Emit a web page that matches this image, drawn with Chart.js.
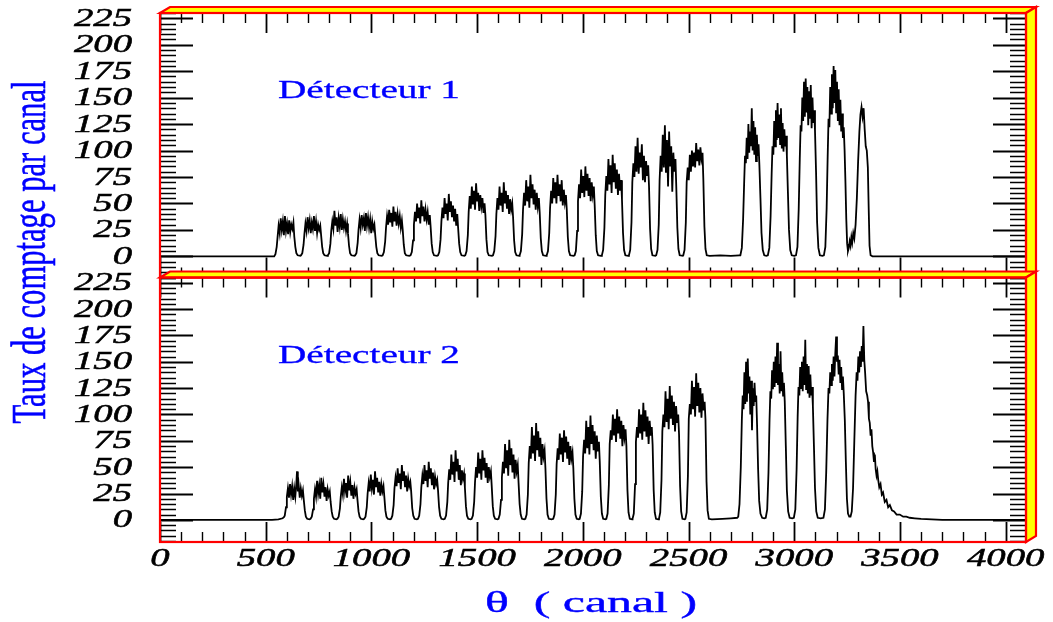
<!DOCTYPE html>
<html>
<head>
<meta charset="utf-8">
<script src="https://cdn.jsdelivr.net/npm/chart.js@4.4.1/dist/chart.umd.min.js"></script>
<style>
  body { margin: 0; background: #fff; }
  canvas { display: block; }
</style>
</head>
<body>
<canvas id="spectre" width="1053" height="622"></canvas>
<script>
// Détecteur 1 : [canal, taux de comptage]
const detecteur1 = [
  [0,0],[540,0],
  [546,2],[552,9],[556,18],[561,29],[566,22],[571,36],[576,25],[581,33],[586,20],[591,38],[596,24],[601,31],[606,21],[611,34],[616,23],[621,30],[626,26],[631,32],[635,19],[640,9],[645,3],[651,1],[664,0.5],
  [667,1],[673,3],[679,11],[683,21],[688,31],[693,24],[698,37],[703,27],[708,34],[713,22],[718,32],[723,26],[728,38],[733,24],[738,33],[743,22],[748,30],[753,25],[758,29],[762,20],[767,9],[772,3],[778,1],[791,0.5],
  [794,1],[800,3],[806,12],[810,24],[815,33],[820,26],[825,43],[830,29],[835,37],[840,23],[845,36],[850,28],[855,40],[860,25],[865,35],[870,27],[875,33],[880,24],[885,31],[889,22],[894,10],[899,3],[905,1],[920,0.5],
  [923,1],[929,3],[935,13],[939,25],[944,35],[949,27],[954,39],[959,30],[964,36],[969,24],[974,41],[979,29],[984,37],[989,27],[994,35],[999,22],[1004,33],[1009,26],[1014,30],[1018,20],[1023,9],[1028,3],[1034,1],[1049,0.5],
  [1053,1],[1059,4],[1065,14],[1069,27],[1074,38],[1079,30],[1084,44],[1089,32],[1094,41],[1099,28],[1104,47],[1109,33],[1114,42],[1119,29],[1124,40],[1129,31],[1134,38],[1139,27],[1144,34],[1148,25],[1153,11],[1158,3],[1164,1],[1179,0.5],
  [1185,1],[1191,4],[1197,15],[1201,30],[1206,42],[1211,33],[1216,50],[1221,36],[1226,46],[1231,31],[1236,53],[1241,38],[1246,47],[1251,33],[1256,44],[1261,35],[1266,42],[1271,30],[1276,39],[1280,28],[1285,12],[1290,4],[1296,1],[1310,0.5],
  [1315,1],[1321,4],[1327,16],[1331,33],[1336,46],[1341,36],[1346,55],[1351,40],[1356,50],[1361,34],[1366,59],[1371,42],[1376,52],[1381,37],[1386,48],[1391,33],[1396,45],[1401,29],[1406,40],[1410,27],[1415,12],[1420,4],[1426,1],[1440,0.5],
  [1444,1],[1450,5],[1456,20],[1460,42],[1465,57],[1470,45],[1475,66],[1480,49],[1485,62],[1490,44],[1495,69],[1500,52],[1505,60],[1510,43],[1515,58],[1520,47],[1525,55],[1530,41],[1535,50],[1539,39],[1544,16],[1549,4],[1555,1],[1570,0.5],
  [1575,1],[1581,5],[1587,19],[1591,40],[1596,55],[1601,44],[1606,66],[1611,48],[1616,60],[1621,42],[1626,70],[1631,50],[1636,62],[1641,45],[1646,58],[1651,40],[1656,54],[1661,44],[1666,50],[1670,37],[1675,15],[1680,4],[1686,1],[1700,0.5],
  [1701,1],[1707,5],[1713,21],[1717,44],[1722,60],[1727,48],[1732,72],[1737,52],[1742,66],[1747,46],[1752,77],[1757,55],[1762,68],[1767,49],[1772,63],[1777,44],[1782,60],[1787,47],[1792,55],[1796,41],[1801,17],[1806,5],[1812,1],[1827,0.5],
  [1829,1],[1835,5],[1841,22],[1845,46],[1850,62],[1855,50],[1860,74],[1865,55],[1870,70],[1875,50],[1880,77],[1885,57],[1890,68],[1895,52],[1900,72],[1905,48],[1910,63],[1915,51],[1920,58],[1924,44],[1929,18],[1934,5],[1940,1],[1956,0.5],
  [1961,1],[1967,5],[1973,24],[1977,52],[1982,68],[1987,55],[1992,82],[1997,60],[2002,76],[2007,56],[2012,85],[2017,62],[2022,78],[2027,57],[2032,74],[2037,52],[2042,70],[2047,58],[2052,66],[2056,48],[2061,20],[2066,5],[2072,1],[2086,0.5],
  [2090,1],[2096,6],[2102,27],[2106,58],[2111,76],[2116,62],[2121,92],[2126,68],[2131,86],[2136,60],[2141,96],[2146,70],[2151,88],[2156,64],[2161,82],[2166,58],[2171,78],[2176,62],[2181,72],[2185,54],[2190,22],[2195,6],[2201,1],[2215,0.5],
  [2218,1],[2224,6],[2230,32],[2234,70],[2239,88],[2244,75],[2249,104],[2254,80],[2259,112],[2264,78],[2269,98],[2274,84],[2279,106],[2284,72],[2289,95],[2294,70],[2299,90],[2304,76],[2309,86],[2313,66],[2318,26],[2323,7],[2329,1],[2343,0.5],
  [2347,1],[2353,6],[2359,30],[2363,72],[2368,95],[2373,80],[2378,115],[2383,84],[2388,124],[2393,79],[2398,110],[2403,66],[2408,118],[2413,85],[2418,104],[2423,61],[2428,98],[2433,80],[2438,92],[2442,65],[2447,27],[2452,7],[2458,1],[2473,0.5],
  [2475,1],[2481,6],[2487,32],[2491,70],[2496,84],[2501,72],[2506,96],[2511,80],[2516,100],[2521,85],[2526,98],[2531,84],[2536,107],[2541,90],[2546,101],[2551,86],[2556,103],[2561,92],[2566,98],[2570,72],[2575,28],[2580,7],[2586,1],
  [2600,0.5],[2650,1],[2700,0.5],[2740,1],
  [2745,1],[2752,8],[2758,35],[2763,70],[2767,95],[2771,88],[2775,112],[2779,92],[2783,125],[2787,98],[2791,118],[2795,104],[2799,140],[2803,100],[2807,128],[2811,96],[2815,122],[2819,90],[2823,115],[2827,95],[2831,106],[2835,86],[2840,55],[2845,22],[2851,6],[2858,1],[2868,0.5],
  [2875,1],[2882,8],[2888,38],[2893,78],[2897,104],[2901,96],[2905,128],[2909,104],[2913,138],[2917,110],[2921,145],[2925,112],[2929,134],[2933,106],[2937,140],[2941,102],[2945,126],[2949,99],[2953,120],[2957,104],[2961,114],[2965,95],[2970,60],[2975,25],[2981,6],[2988,1],[3000,0.5],
  [3008,1],[3015,9],[3021,45],[3026,92],[3030,124],[3034,118],[3038,150],[3042,128],[3046,165],[3050,132],[3054,168],[3058,136],[3062,160],[3066,124],[3070,156],[3074,130],[3078,162],[3082,121],[3086,150],[3090,126],[3094,138],[3098,119],[3103,80],[3108,32],[3114,8],[3121,1],[3133,0.5],
  [3140,1],[3147,9],[3153,45],[3158,95],[3162,130],[3166,122],[3170,160],[3174,135],[3178,172],[3182,140],[3186,180],[3190,145],[3194,176],[3198,136],[3202,165],[3206,128],[3210,158],[3214,124],[3218,148],[3222,118],[3226,135],[3230,112],[3234,122],[3238,100],[3242,70],[3246,35],[3250,12],[3254,5],
  [3258,8],[3262,14],[3266,10],[3270,18],[3274,13],[3279,22],[3284,17],[3290,30],[3296,55],[3302,90],[3308,118],[3313,134],[3318,141],[3323,132],[3328,140],[3333,120],[3338,104],[3343,100],[3348,84],[3352,45],[3356,10],[3361,1],[3370,0],
  [4096,0]
];

// Détecteur 2 : [canal, taux de comptage]
const detecteur2 = [
  [0,0],[530,0],[560,0.5],[580,1.5],[586,2.5],
  [590,4],[596,12],[600,22],[605,30],[610,21],[615,34],[620,24],[625,32],[630,19],[635,30],[640,22],[645,35],[648,46],[652,27],[656,33],[661,21],[666,30],[671,23],[676,28],[680,19],[685,9],[690,3],[696,1],[707,0.5],
  [712,1],[718,3],[724,10],[728,20],[733,29],[738,22],[743,37],[748,25],[753,33],[758,20],[763,40],[768,26],[773,34],[778,22],[783,31],[788,18],[793,29],[798,23],[803,27],[807,17],[812,8],[817,3],[823,1],[834,0.5],
  [839,1],[845,3],[851,11],[855,22],[860,31],[865,24],[870,39],[875,27],[880,35],[885,21],[890,42],[895,28],[900,36],[905,23],[910,33],[915,20],[920,31],[925,25],[930,29],[934,19],[939,8],[944,3],[950,1],[961,0.5],
  [966,1],[972,3],[978,12],[982,25],[987,35],[992,27],[997,43],[1002,30],[1007,38],[1012,24],[1017,46],[1022,31],[1027,40],[1032,26],[1037,36],[1042,23],[1047,34],[1052,27],[1057,32],[1061,22],[1066,9],[1071,3],[1077,1],[1088,0.5],
  [1093,1],[1099,4],[1105,14],[1109,30],[1114,40],[1119,32],[1124,49],[1129,35],[1134,44],[1139,29],[1144,52],[1149,37],[1154,46],[1159,31],[1164,42],[1169,27],[1174,39],[1179,32],[1184,36],[1188,27],[1193,11],[1198,4],[1204,1],[1215,0.5],
  [1220,1],[1226,4],[1232,15],[1236,31],[1241,42],[1246,34],[1251,52],[1256,37],[1261,47],[1266,31],[1271,55],[1276,39],[1281,49],[1286,33],[1291,45],[1296,29],[1301,41],[1306,34],[1311,38],[1315,28],[1320,12],[1325,4],[1331,1],[1342,0.5],
  [1347,1],[1353,4],[1359,17],[1363,35],[1368,48],[1373,38],[1378,62],[1383,43],[1388,55],[1393,36],[1398,66],[1403,46],[1408,58],[1413,38],[1418,52],[1423,33],[1428,47],[1433,39],[1438,44],[1442,31],[1447,13],[1452,4],[1458,1],[1469,0.5],
  [1474,1],[1480,4],[1486,17],[1490,36],[1495,50],[1500,40],[1505,64],[1510,44],[1515,58],[1520,38],[1525,66],[1530,47],[1535,59],[1540,40],[1545,54],[1550,35],[1555,50],[1560,41],[1565,46],[1569,32],[1574,13],[1579,4],[1585,1],[1596,0.5],
  [1601,1],[1607,5],[1613,19],[1617,40],[1622,55],[1627,44],[1632,72],[1637,49],[1642,66],[1647,42],[1652,76],[1657,52],[1662,68],[1667,45],[1672,62],[1677,39],[1682,57],[1687,46],[1692,52],[1696,35],[1701,15],[1706,5],[1712,1],[1723,0.5],
  [1728,1],[1734,5],[1740,24],[1744,54],[1749,70],[1754,58],[1759,88],[1764,63],[1769,80],[1774,56],[1779,92],[1784,66],[1789,84],[1794,60],[1799,78],[1804,52],[1809,72],[1814,60],[1819,66],[1823,49],[1828,20],[1833,5],[1839,1],[1852,0.5],
  [1860,1],[1866,5],[1872,24],[1876,53],[1881,68],[1886,57],[1891,82],[1896,62],[1901,78],[1906,55],[1911,85],[1916,64],[1921,79],[1926,58],[1931,74],[1936,52],[1941,70],[1946,58],[1951,64],[1955,49],[1960,20],[1965,5],[1971,1],[1981,0.5],
  [1985,1],[1991,6],[1997,27],[2001,60],[2006,76],[2011,63],[2016,94],[2021,68],[2026,88],[2031,62],[2036,99],[2041,72],[2046,90],[2051,66],[2056,84],[2061,58],[2066,80],[2071,65],[2076,74],[2080,55],[2085,22],[2090,6],[2096,1],[2107,0.5],
  [2111,1],[2117,6],[2123,33],[2127,72],[2132,85],[2137,76],[2142,100],[2147,80],[2152,96],[2157,74],[2162,105],[2167,82],[2172,98],[2177,77],[2182,94],[2187,70],[2192,90],[2197,78],[2202,86],[2206,70],[2211,28],[2216,7],[2222,1],[2233,0.5],
  [2235,1],[2241,6],[2247,34],[2251,74],[2256,88],[2261,78],[2266,105],[2271,82],[2276,100],[2281,76],[2286,111],[2291,84],[2296,104],[2301,79],[2306,98],[2311,72],[2316,94],[2321,80],[2326,88],[2330,71],[2335,28],[2340,7],[2346,1],[2357,0.5],
  [2360,1],[2366,7],[2372,38],[2376,84],[2381,100],[2386,88],[2391,122],[2396,93],[2401,115],[2406,86],[2411,127],[2416,96],[2421,118],[2426,90],[2431,112],[2436,84],[2441,108],[2446,92],[2451,100],[2455,81],[2460,32],[2465,8],[2471,1],[2482,0.5],
  [2485,1],[2491,7],[2497,42],[2501,96],[2506,110],[2511,100],[2516,132],[2521,105],[2526,126],[2531,98],[2536,139],[2541,108],[2546,130],[2551,102],[2556,125],[2561,97],[2566,120],[2571,104],[2576,112],[2580,95],[2585,36],[2590,9],[2596,1],
  [2610,0.5],[2660,1],[2700,1.5],[2730,2],
  [2735,3],[2741,15],[2747,50],[2752,95],[2756,118],[2760,105],[2764,140],[2768,110],[2772,150],[2776,112],[2780,153],[2784,120],[2788,136],[2792,100],[2796,132],[2800,85],[2804,125],[2808,108],[2812,130],[2816,112],[2820,118],[2824,90],[2829,48],[2834,18],[2840,6],[2848,2],[2858,1.5],
  [2865,2],[2872,10],[2878,45],[2883,95],[2887,122],[2891,115],[2895,142],[2899,124],[2903,150],[2907,126],[2911,155],[2915,130],[2919,168],[2923,128],[2927,148],[2931,120],[2935,160],[2939,122],[2943,140],[2947,118],[2951,130],[2955,112],[2960,70],[2965,28],[2971,8],[2978,2],[2990,1.5],
  [2998,2],[3005,10],[3011,48],[3016,98],[3020,126],[3024,118],[3028,145],[3032,125],[3036,150],[3040,122],[3044,155],[3048,128],[3052,171],[3056,124],[3060,148],[3064,120],[3068,146],[3072,116],[3076,138],[3080,118],[3084,126],[3088,108],[3093,70],[3098,30],[3104,8],[3111,2],[3125,1.5],
  [3138,2],[3145,10],[3151,45],[3157,95],[3162,125],[3166,120],[3170,140],[3174,128],[3178,148],[3182,132],[3186,155],[3190,136],[3194,158],[3198,174],[3202,150],[3206,156],[3210,138],[3214,152],[3218,130],[3222,145],[3226,124],[3230,136],[3234,120],[3239,95],[3244,55],[3249,20],[3254,6],[3260,3],
  [3266,3],[3272,8],[3278,30],[3284,75],[3290,118],[3295,140],[3299,132],[3303,155],[3307,140],[3311,160],[3315,145],[3319,165],[3323,150],[3327,184],[3331,152],[3335,140],[3340,122],[3345,118],[3349,112],[3353,96],[3357,92],[3361,80],[3365,86],[3369,70],[3373,64],[3377,55],[3381,62],[3385,48],[3389,42],[3393,46],[3397,38],[3402,31],[3408,34],[3414,24],[3420,26],[3428,17],[3436,19],[3444,12],[3452,14],[3462,9],[3472,8],[3484,5],[3499,5],[3515,3],[3530,3],[3546,2],[3570,1.5],[3600,1],[3650,0.5],[3700,0],
  [4096,0]
];

const ticksY = [0, 25, 50, 75, 100, 125, 150, 175, 200, 225];
const ticksX = [0, 500, 1000, 1500, 2000, 2500, 3000, 3500, 4000];
const titres = ["Détecteur 1", "Détecteur 2"];
const titreY = "Taux de comptage par canal";
const titreX = "θ  ( canal )";

const SERIF = '"Liberation Serif", "DejaVu Serif", serif';
const ROUGE = "#ff0000";
const JAUNE = "#ffff00";
const BLEU = "#0000ff";

// texte étiré horizontalement (la figure d'origine est élargie)
function texteEtire(ctx, txt, x, y, align, sx, epais) {
  ctx.save();
  ctx.translate(x, y);
  ctx.scale(sx, 1);
  ctx.textAlign = align;
  ctx.fillText(txt, 0, 0);
  if (epais) {
    ctx.strokeStyle = ctx.fillStyle;
    ctx.lineWidth = epais;
    ctx.strokeText(txt, 0, 0);
  }
  ctx.restore();
}

function texteLargeur(ctx, txt, x, y, largeur, epais) {
  const w = ctx.measureText(txt).width;
  texteEtire(ctx, txt, x, y, "left", largeur / w, epais);
}

const cadre = {
  id: "cadre",
  afterDraw(chart) {
    const ctx = chart.ctx;
    const sx = chart.scales.x;
    const area = chart.chartArea;
    const L = area.left, R = area.right;
    const panneaux = [chart.scales.yHaut, chart.scales.yBas];
    const dx = 10, dy = -6;

    panneaux.forEach((ys, i) => {
      const T = ys.top, B = ys.bottom;
      ctx.save();
      ctx.strokeStyle = "#000";

      // graduations Y (gauche et droite)
      for (let v = Math.ceil(ys.min / 5) * 5; v <= ys.max; v += 5) {
        const py = Math.round(ys.getPixelForValue(v)) + 0.5;
        const major = ticksY.includes(v);
        const len = major ? 33 : 16;
        ctx.lineWidth = major ? 1.8 : 1.4;
        ctx.beginPath();
        ctx.moveTo(L, py); ctx.lineTo(L + len, py);
        ctx.moveTo(R, py); ctx.lineTo(R - len, py);
        ctx.stroke();
      }
      // graduations X (haut et bas)
      for (let c = 0; c <= sx.max; c += 100) {
        const px = Math.round(sx.getPixelForValue(c)) + 0.5;
        const major = ticksX.includes(c);
        const len = major ? 20 : 10;
        ctx.lineWidth = major ? 1.8 : 1.4;
        ctx.beginPath();
        ctx.moveTo(px, T); ctx.lineTo(px, T + len);
        ctx.moveTo(px, B); ctx.lineTo(px, B - len);
        ctx.stroke();
      }

      // étiquettes Y
      ctx.fillStyle = "#000";
      ctx.font = "italic 25px " + SERIF;
      ctx.textBaseline = "middle";
      ticksY.forEach(v => {
        texteEtire(ctx, String(v), 132, ys.getPixelForValue(v) + 1, "right", 1.55, 0.5);
      });

      // cadre rouge avec bandeau jaune en relief
      ctx.lineWidth = 2.2;
      ctx.strokeStyle = ROUGE;
      ctx.fillStyle = JAUNE;
      ctx.lineJoin = "miter";
      ctx.beginPath();
      ctx.moveTo(L, T); ctx.lineTo(L + dx, T + dy); ctx.lineTo(R + dx, T + dy); ctx.lineTo(R, T); ctx.closePath();
      ctx.fill(); ctx.stroke();
      ctx.beginPath();
      ctx.moveTo(R, T); ctx.lineTo(R + dx, T + dy); ctx.lineTo(R + dx, B + dy); ctx.lineTo(R, B); ctx.closePath();
      ctx.fill(); ctx.stroke();
      ctx.strokeRect(L, T, R - L, B - T);

      // titre du détecteur
      ctx.fillStyle = BLEU;
      ctx.font = "25px " + SERIF;
      ctx.textBaseline = "alphabetic";
      texteLargeur(ctx, titres[i], 278, T + 85, 182, 0.3);
      ctx.restore();
    });

    // étiquettes X
    ctx.save();
    ctx.fillStyle = "#000";
    ctx.font = "italic 25px " + SERIF;
    ctx.textBaseline = "middle";
    ticksX.forEach(c => {
      texteEtire(ctx, String(c), sx.getPixelForValue(c), 559, "center", 1.55, 0.5);
    });

    // titre X
    ctx.fillStyle = BLEU;
    ctx.font = "29px " + SERIF;
    ctx.textBaseline = "alphabetic";
    texteLargeur(ctx, titreX, 485, 612, 212, 0.4);

    // titre Y (vertical)
    ctx.font = "32px " + SERIF;
    const w = ctx.measureText(titreY).width;
    ctx.translate(45, 252);
    ctx.scale(1.5, 1);
    ctx.rotate(-Math.PI / 2);
    ctx.scale(343 / w, 1);
    ctx.textAlign = "center";
    ctx.fillText(titreY, 0, 0);
    ctx.strokeStyle = BLEU;
    ctx.lineWidth = 0.4;
    ctx.strokeText(titreY, 0, 0);
    ctx.restore();
  }
};

const points = d => d.map(p => ({ x: p[0], y: p[1] }));

new Chart(document.getElementById("spectre"), {
  type: "line",
  data: {
    datasets: [
      { data: points(detecteur1), yAxisID: "yHaut", borderColor: "#000", borderWidth: 1.8, pointRadius: 0, tension: 0 },
      { data: points(detecteur2), yAxisID: "yBas", borderColor: "#000", borderWidth: 1.8, pointRadius: 0, tension: 0 }
    ]
  },
  options: {
    responsive: false,
    animation: false,
    events: [],
    layout: { padding: { left: 160, right: 27, top: 13, bottom: 80 } },
    plugins: { legend: { display: false }, tooltip: { enabled: false } },
    scales: {
      x: { type: "linear", min: 0, max: 4096, display: false },
      // les axes empilés sont placés de haut en bas dans l'ordre inverse de déclaration
      yBas: { type: "linear", position: "left", min: -21, max: 230, display: false, stack: "panneaux", stackWeight: 1 },
      yHaut: { type: "linear", position: "left", min: -20, max: 230, display: false, stack: "panneaux", stackWeight: 1 }
    }
  },
  plugins: [cadre]
});
</script>
</body>
</html>
